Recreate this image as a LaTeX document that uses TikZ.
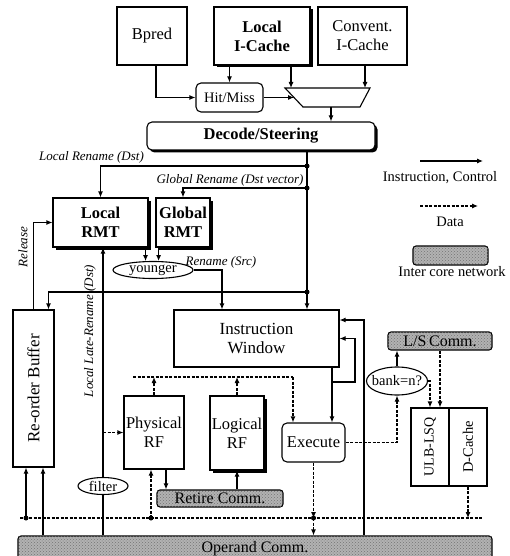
\documentclass[tikz,border=0pt]{standalone}
\usepackage{fontspec}
\setmainfont{Liberation Serif}
\usetikzlibrary{arrows.meta,shapes.geometric,shadows,patterns}

\newcommand{\bxfont}{\fontsize{16.5}{19}\selectfont}
\newcommand{\smfont}{\fontsize{14.5}{16}\selectfont}
\newcommand{\lblfont}{\fontsize{13}{15}\selectfont\itshape}

\tikzset{
	blk/.style={draw, inner sep=0pt, align=center, font=\bxfont},
	rblk/.style={blk, rounded corners=5pt},
	heavy/.style={fill=white, drop shadow={shadow xshift=2.5pt, shadow yshift=-2.5pt, fill=black, opacity=1}},
	oval/.style={draw, ellipse, inner sep=0pt, fill=white, font=\smfont},
	net/.style={draw, rounded corners=3pt, inner sep=0pt, fill=black!30,
		postaction={pattern=crosshatch dots, pattern color=black!55}, font=\fontsize{16}{18}\selectfont},
	lbl/.style={font=\lblfont, inner sep=0pt},
	data/.style={dash pattern=on 3pt off 1.5pt},
	legend/.style={font=\smfont, inner sep=0pt},
}

\begin{document}
\begin{tikzpicture}[x=1pt,y=-1pt,>={Latex[length=6pt,width=5pt]},line width=1.1pt]
	\useasboundingbox (0,0) rectangle (509,556);
	
	% fetch
	\node[blk, minimum width=70, minimum height=58] (bpred) at (152,36) {Bpred};
	\node[blk, heavy, minimum width=96, minimum height=58, font=\bxfont\bfseries] (licache) at (262,36) {Local\\I-Cache};
	\node[blk, minimum width=89, minimum height=58] (cicache) at (362.5,36) {Convent.\\I-Cache};
	\node[rblk, minimum width=67, minimum height=29, font=\smfont] (hitmiss) at (229.5,97.5) {Hit/Miss};
	\draw (285,88) -- (370,88) -- (360,107) -- (303,107) -- cycle;
	\coordinate (muxa) at (291,88);
	\coordinate (muxb) at (365,88);
	\coordinate (muxc) at (294,97.5);
	\coordinate (muxout) at (331,107);
	\node[rblk, heavy, minimum width=228, minimum height=28, font=\bxfont\bfseries] (decode) at (261,136) {Decode/Steering};
	
	\draw[->] ([xshift=4]bpred.south) |- (hitmiss.west);
	\draw[->] (hitmiss.north |- licache.south) -- (hitmiss.north);
	\draw[->] (muxa |- licache.south) -- (muxa);
	\draw[->] (muxb |- cicache.south) -- (muxb);
	\draw[->] (hitmiss.east) -- (muxc);
	\draw[->] (muxout) -- (muxout |- decode.north);
	
	% rename
	\node[blk, heavy, minimum width=95, minimum height=49, font=\bxfont\bfseries] (lrmt) at (100.5,222.5) {Local\\RMT};
	\node[blk, heavy, minimum width=54, minimum height=49, font=\bxfont\bfseries] (grmt) at (183,222.5) {Global\\RMT};
	\node[oval, minimum width=80, minimum height=17] (younger) at (153,270) {younger};
	
	% back end
	\node[blk, minimum width=41, minimum height=157, font=\fontsize{17}{19}\selectfont] (rob) at (33.5,388.5) {\rotatebox{90}{Re-order Buffer}};
	\node[blk, minimum width=165, minimum height=57, font=\fontsize{17}{19}\selectfont] (iw) at (256.5,338.5) {Instruction\\Window};
	\node[blk, minimum width=60, minimum height=73] (prf) at (154,432.5) {Physical\\RF};
	\node[blk, heavy, minimum width=54, minimum height=74] (lrf) at (237,433) {Logical\\RF};
	\node[rblk, minimum width=63, minimum height=39] (exec) at (313.5,442.5) {Execute};
	\node[net, minimum width=126, minimum height=17] (retire) at (220,498.5) {Retire Comm.};
	\node[oval, minimum width=50, minimum height=17] (filter) at (103,486) {filter};
	\node[oval, inner xsep=-4pt, minimum width=61, minimum height=28] (bank) at (397,381) {bank=n?};
	\node[net, minimum width=104, minimum height=18] (lscomm) at (440,341) {L/S\,Comm.};
	\node[blk, minimum width=38, minimum height=78, font=\fontsize{14}{16}\selectfont] (lsq) at (430,447) {\rotatebox{90}{ULB-LSQ}};
	\node[blk, minimum width=38, minimum height=78, font=\fontsize{14.5}{16}\selectfont] (dcache) at (468,447) {\rotatebox{90}{D-Cache}};
	\node[net, minimum width=474, minimum height=26] (opcomm) at (255,549) {Operand Comm.};
	
	% steering
	\coordinate (dst1) at (307,166);
	\coordinate (dst2) at (307,188);
	\coordinate (disp) at (307,292);
	\draw (dst1 |- decode.south) -- (disp);
	\draw[->] (disp) -- (disp |- iw.north);
	\draw[->] (dst1) -| (lrmt.north);
	\draw[->] (dst2) -| (grmt.north);
	\draw[->] (disp) -| ([xshift=15]rob.north);
	\node[lbl] at (91.5,157) {Local Rename (Dst)};
	\node[lbl] at (230,180) {Global Rename (Dst vector)};
	
	\draw[->] (lrmt.south -| younger.130) -- (younger.130);
	\draw[->] (grmt.south -| younger.58) -- (younger.58);
	\draw[->] (younger.east) -| ([xshift=-34.5]iw.north);
	\node[lbl] at (221,262) {Rename (Src)};
	
	\draw[->] (rob.north) |- (lrmt.west);
	\node[lbl, rotate=90] at (23,247) {Release};
	
	\draw (filter |- opcomm.north) -- (filter.south);
	\draw[->] (filter.north) -- (filter.north |- lrmt.south);
	\node[lbl, rotate=90] at (90,331) {Local Late-Rename (Dst)};
	\draw[data,->] (filter |- prf.west) -- (prf.west);
	
	% register read
	\coordinate (rdl) at (133,377);
	\coordinate (rdr) at (293,377);
	\draw[data] (rdl) -- (rdr);
	\draw[data,->] (prf.north) -- (prf.north |- rdl);
	\draw[data,->] (lrf.north) -- (lrf.north |- rdl);
	\draw[data,->] (rdr) -- (rdr |- exec.north);
	
	% issue
	\coordinate (wk) at (332,382);
	\coordinate (wkr) at (355,382);
	\draw[->] (wk |- iw.south) -- (wk |- exec.north);
	\draw[->] (wk) -- (wkr) |- (iw.east);
	\coordinate (byp) at (364,320);
	\draw[->] (byp |- opcomm.north) -- (byp) -- (byp -| iw.east);
	
	% result bus
	\coordinate (busl) at (20,518);
	\coordinate (busr) at (483,518);
	\draw[data] (busl) -- (busr);
	\coordinate (xd) at (313.5,518);
	\draw[data,->] (exec.south) -- (xd);
	\draw[data,->] (xd) -- (xd |- opcomm.north);
	\coordinate (robd) at (26,518);
	\coordinate (robo) at (43,518);
	\draw[->] (robd) -- (robd |- rob.south);
	\draw[->] (robo |- opcomm.north) -- (robo |- rob.south);
	\coordinate (prfd) at (151,518);
	\draw[data,->] (prfd) -- (prfd |- prf.south);
	\draw[->] ([xshift=12]prf.south) -- ([xshift=12]prf.south |- retire.north);
	\draw[->] (lrf.south |- retire.north) -- (lrf.south);
	
	% memory
	\draw[data,->] (exec.east) -| (bank.south);
	\draw[->] (bank.north) -- (bank.north |- lscomm.south);
	\draw[data,->] (bank.east) -| (lsq.north);
	\draw[data,->] ([xshift=10]lsq.north |- lscomm.south) -- ([xshift=10]lsq.north);
	\draw[data,->] (dcache.south) -- (dcache.south |- busr);
	
	\foreach \p in {dst1,dst2,disp,robd,prfd,xd} {
		\fill (\p) circle (2.5pt);
	}
	
	% legend
	\coordinate (la1) at (420,161);
	\coordinate (la2) at (483,161);
	\draw[->] (la1) -- (la2);
	\node[legend] at (440,178) {Instruction, Control};
	\coordinate (lb1) at (420,206);
	\coordinate (lb2) at (478,206);
	\draw[data,->] (lb1) -- (lb2);
	\node[legend] at (450,222) {Data};
	\node[net, minimum width=75, minimum height=19] (lnet) at (450.5,255.5) {};
	\node[legend] at (452,272) {Inter core network};
	
\end{tikzpicture}
\end{document}
